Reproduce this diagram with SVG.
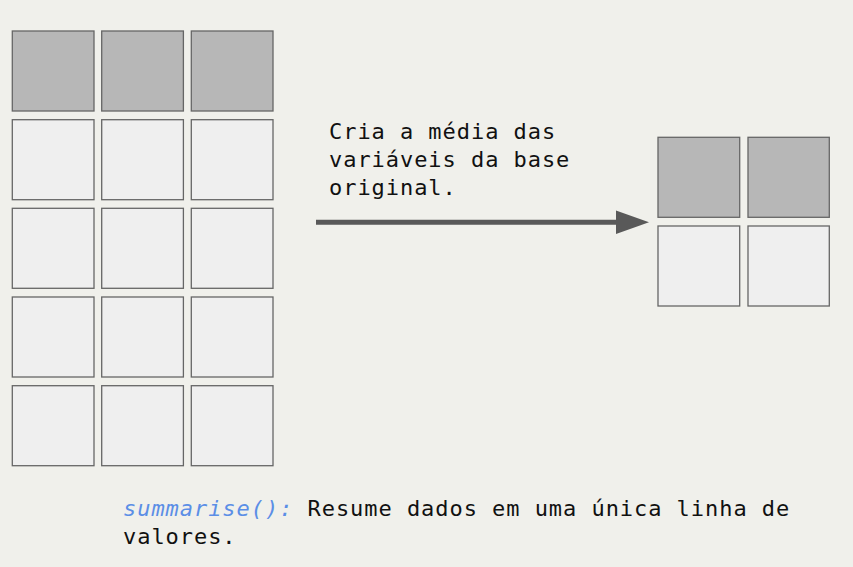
<svg xmlns="http://www.w3.org/2000/svg" width="853" height="567" viewBox="0 0 853 567">
<defs>
<style>
.dk{fill:#b7b7b7;stroke:#666;stroke-width:1.3}
.lt{fill:#efefef;stroke:#666;stroke-width:1.3}
.t{font-family:"DejaVu Sans Mono","Liberation Mono",monospace;font-size:22px;letter-spacing:0.95px;fill:#111}
.f{fill:#5b8ee6;font-style:italic}
</style>
<marker id="ah" markerWidth="8" markerHeight="8" refX="0" refY="4" orient="auto" markerUnits="userSpaceOnUse" viewBox="0 0 8 8" overflow="visible">
<path d="M0,-7.7 L33,4 L0,15.7 Z" fill="#595959"/>
</marker>
</defs>
<rect width="853" height="567" fill="#f0f0eb"/>
<g id="source-table">
<rect class="dk" x="12.3" y="31" width="81.7" height="80"/>
<rect class="dk" x="101.7" y="31" width="81.7" height="80"/>
<rect class="dk" x="191.3" y="31" width="81.7" height="80"/>
<rect class="lt" x="12.3" y="119.7" width="81.7" height="80"/>
<rect class="lt" x="101.7" y="119.7" width="81.7" height="80"/>
<rect class="lt" x="191.3" y="119.7" width="81.7" height="80"/>
<rect class="lt" x="12.3" y="208.3" width="81.7" height="80"/>
<rect class="lt" x="101.7" y="208.3" width="81.7" height="80"/>
<rect class="lt" x="191.3" y="208.3" width="81.7" height="80"/>
<rect class="lt" x="12.3" y="297" width="81.7" height="80"/>
<rect class="lt" x="101.7" y="297" width="81.7" height="80"/>
<rect class="lt" x="191.3" y="297" width="81.7" height="80"/>
<rect class="lt" x="12.3" y="385.7" width="81.7" height="80"/>
<rect class="lt" x="101.7" y="385.7" width="81.7" height="80"/>
<rect class="lt" x="191.3" y="385.7" width="81.7" height="80"/>
</g>
<g id="result-table">
<rect class="dk" x="658" y="137.3" width="81.7" height="80"/>
<rect class="dk" x="748" y="137.3" width="81.3" height="80"/>
<rect class="lt" x="658" y="226" width="81.7" height="80"/>
<rect class="lt" x="748" y="226" width="81.3" height="80"/>
</g>
<g id="connectors">
<line x1="316" y1="222.3" x2="616" y2="222.3" stroke="#595959" stroke-width="5" marker-end="url(#ah)"/>
</g>
<g id="arrow-label">
<text class="t" x="329" y="138.5">Cria a média das</text>
<text class="t" x="329" y="166.8">variáveis da base</text>
<text class="t" x="329" y="195">original.</text>
</g>
<g id="caption">
<text class="t" x="123" y="515.5"><tspan class="f">summarise():</tspan> Resume dados em uma única linha de</text>
<text class="t" x="123" y="543.5">valores.</text>
</g>
</svg>
